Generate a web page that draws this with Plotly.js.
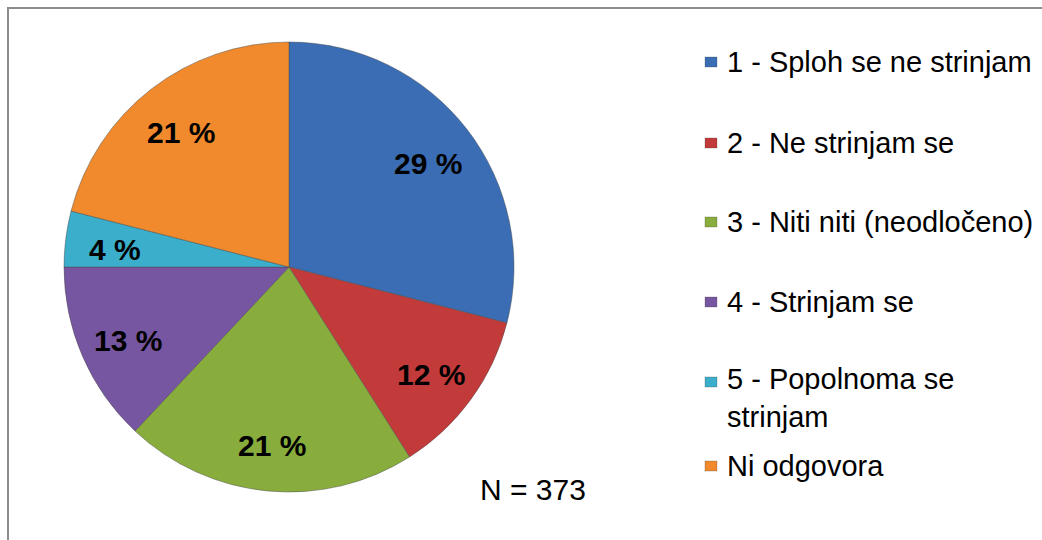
<!DOCTYPE html>
<html>
<head>
<meta charset="utf-8">
<script src="https://cdn.plot.ly/plotly-3.0.1.min.js"></script>
<style>
  html, body { margin: 0; padding: 0; background: #ffffff; }
  #chart { width: 1042px; height: 540px; }
</style>
</head>
<body>
<div id="chart"></div>
<script>
const categories = [
  "1 - Sploh se ne strinjam",
  "2 - Ne strinjam se",
  "3 - Niti niti (neodločeno)",
  "4 - Strinjam se",
  "5 - Popolnoma se<br>strinjam",
  "Ni odgovora"
];
const percentValues = [29, 12, 21, 13, 4, 21];
const sampleNote = "N = 373";

const sliceColors = ["#3a6db4", "#c23b3a", "#88ad3d", "#7656a0", "#3aaecb", "#f08a2c"];

const W = 1042, H = 540;
const px = (x) => x / W;
const py = (y) => 1 - y / H;

const cx = 289, cy = 267, r = 225;
const labelRadius = 0.78;
const FONT = "Liberation Sans, Arial, sans-serif";

const trace = {
  type: "pie",
  labels: categories,
  values: percentValues,
  sort: false,
  direction: "clockwise",
  rotation: 0,
  marker: { colors: sliceColors, line: { color: "rgba(70,70,70,0.45)", width: 1 } },
  textinfo: "none",
  hoverinfo: "label+percent",
  showlegend: false,
  domain: { x: [px(cx - r), px(cx + r)], y: [py(cy + r), py(cy - r)] }
};

const shapes = [
  { type: "rect", xref: "paper", yref: "paper", x0: px(8), x1: 1.05, y0: -0.05, y1: py(8),
    line: { color: "#8c8c8c", width: 2 }, fillcolor: "rgba(0,0,0,0)" }
];
const annotations = [];

// slice labels placed near the outer part of each slice (from cumulative values)
const total = percentValues.reduce((a, b) => a + b, 0);
let cum = 0;
percentValues.forEach((v) => {
  const mid = (cum + v / 2) / total * 2 * Math.PI;
  cum += v;
  const lx = cx + Math.sin(mid) * r * labelRadius;
  const ly = cy - Math.cos(mid) * r * labelRadius + 4;
  annotations.push({ xref: "paper", yref: "paper", x: px(lx), y: py(ly),
    xanchor: "center", yanchor: "middle", showarrow: false, text: "<b>" + v + " %</b>",
    font: { family: FONT, size: 30, color: "#000000" } });
});

// custom legend (squares + text) to match the spacing of the original
const legendRowsY = [62, 143, 222, 302, 398, 466];
categories.forEach((c, i) => {
  const yc = legendRowsY[i];
  const isTwoLine = c.indexOf("<br>") >= 0;
  const sqY = isTwoLine ? yc - 16 : yc;
  shapes.push({ type: "rect", xref: "paper", yref: "paper",
    x0: px(705), x1: px(717), y0: py(sqY + 5), y1: py(sqY - 5),
    fillcolor: sliceColors[i], line: { color: "rgba(60,60,60,0.5)", width: 0.5 } });
  annotations.push({ xref: "paper", yref: "paper", x: px(725), y: py(yc),
    xanchor: "left", yanchor: "middle", align: "left", showarrow: false, text: c,
    font: { family: FONT, size: 29, color: "#000000" } });
});
annotations.push({ xref: "paper", yref: "paper", x: px(478), y: py(489), xanchor: "left", yanchor: "middle",
  showarrow: false, text: sampleNote,
  font: { family: FONT, size: 30, color: "#000000" } });

const layout = {
  width: W, height: H,
  margin: { l: 0, r: 0, t: 0, b: 0 },
  paper_bgcolor: "#ffffff",
  showlegend: false,
  shapes: shapes,
  annotations: annotations
};

Plotly.newPlot("chart", [trace], layout, { displayModeBar: false, responsive: false });
</script>
</body>
</html>
